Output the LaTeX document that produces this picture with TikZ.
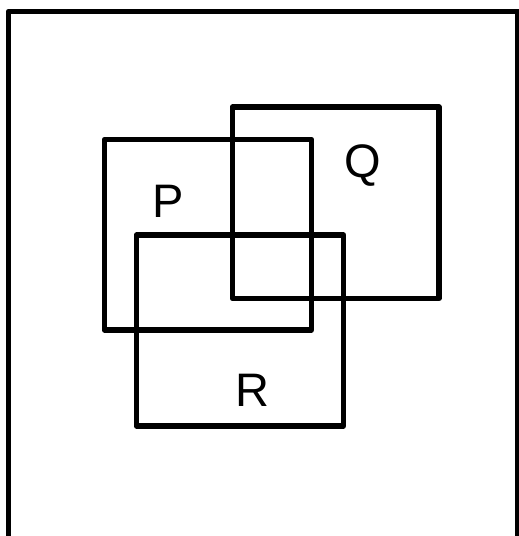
\documentclass[tikz,border=0pt]{standalone}
\usepackage{fontspec}
\setmainfont{Liberation Sans}
\begin{document}
\begin{tikzpicture}[x=1pt,y=-1pt,
  box/.style={draw=black,line width=5.5pt,line join=round},
  lbl/.style={font=\fontsize{47}{47}\selectfont,inner sep=0pt}]
\useasboundingbox (0,0) rectangle (519,536);
\draw[box] (8.5,11.5) rectangle (518,545);
\draw[box] (104.5,139.5) rectangle (311.5,330);
\draw[box] (232.5,107) rectangle (439,298.5);
\draw[box] (136.5,235) rectangle (343.5,426);
\node[lbl] (p) at (168,201) {P};
\node[lbl] (q) at (363,166) {Q};
\node[lbl] (r) at (252,390) {R};
\end{tikzpicture}
\end{document}
